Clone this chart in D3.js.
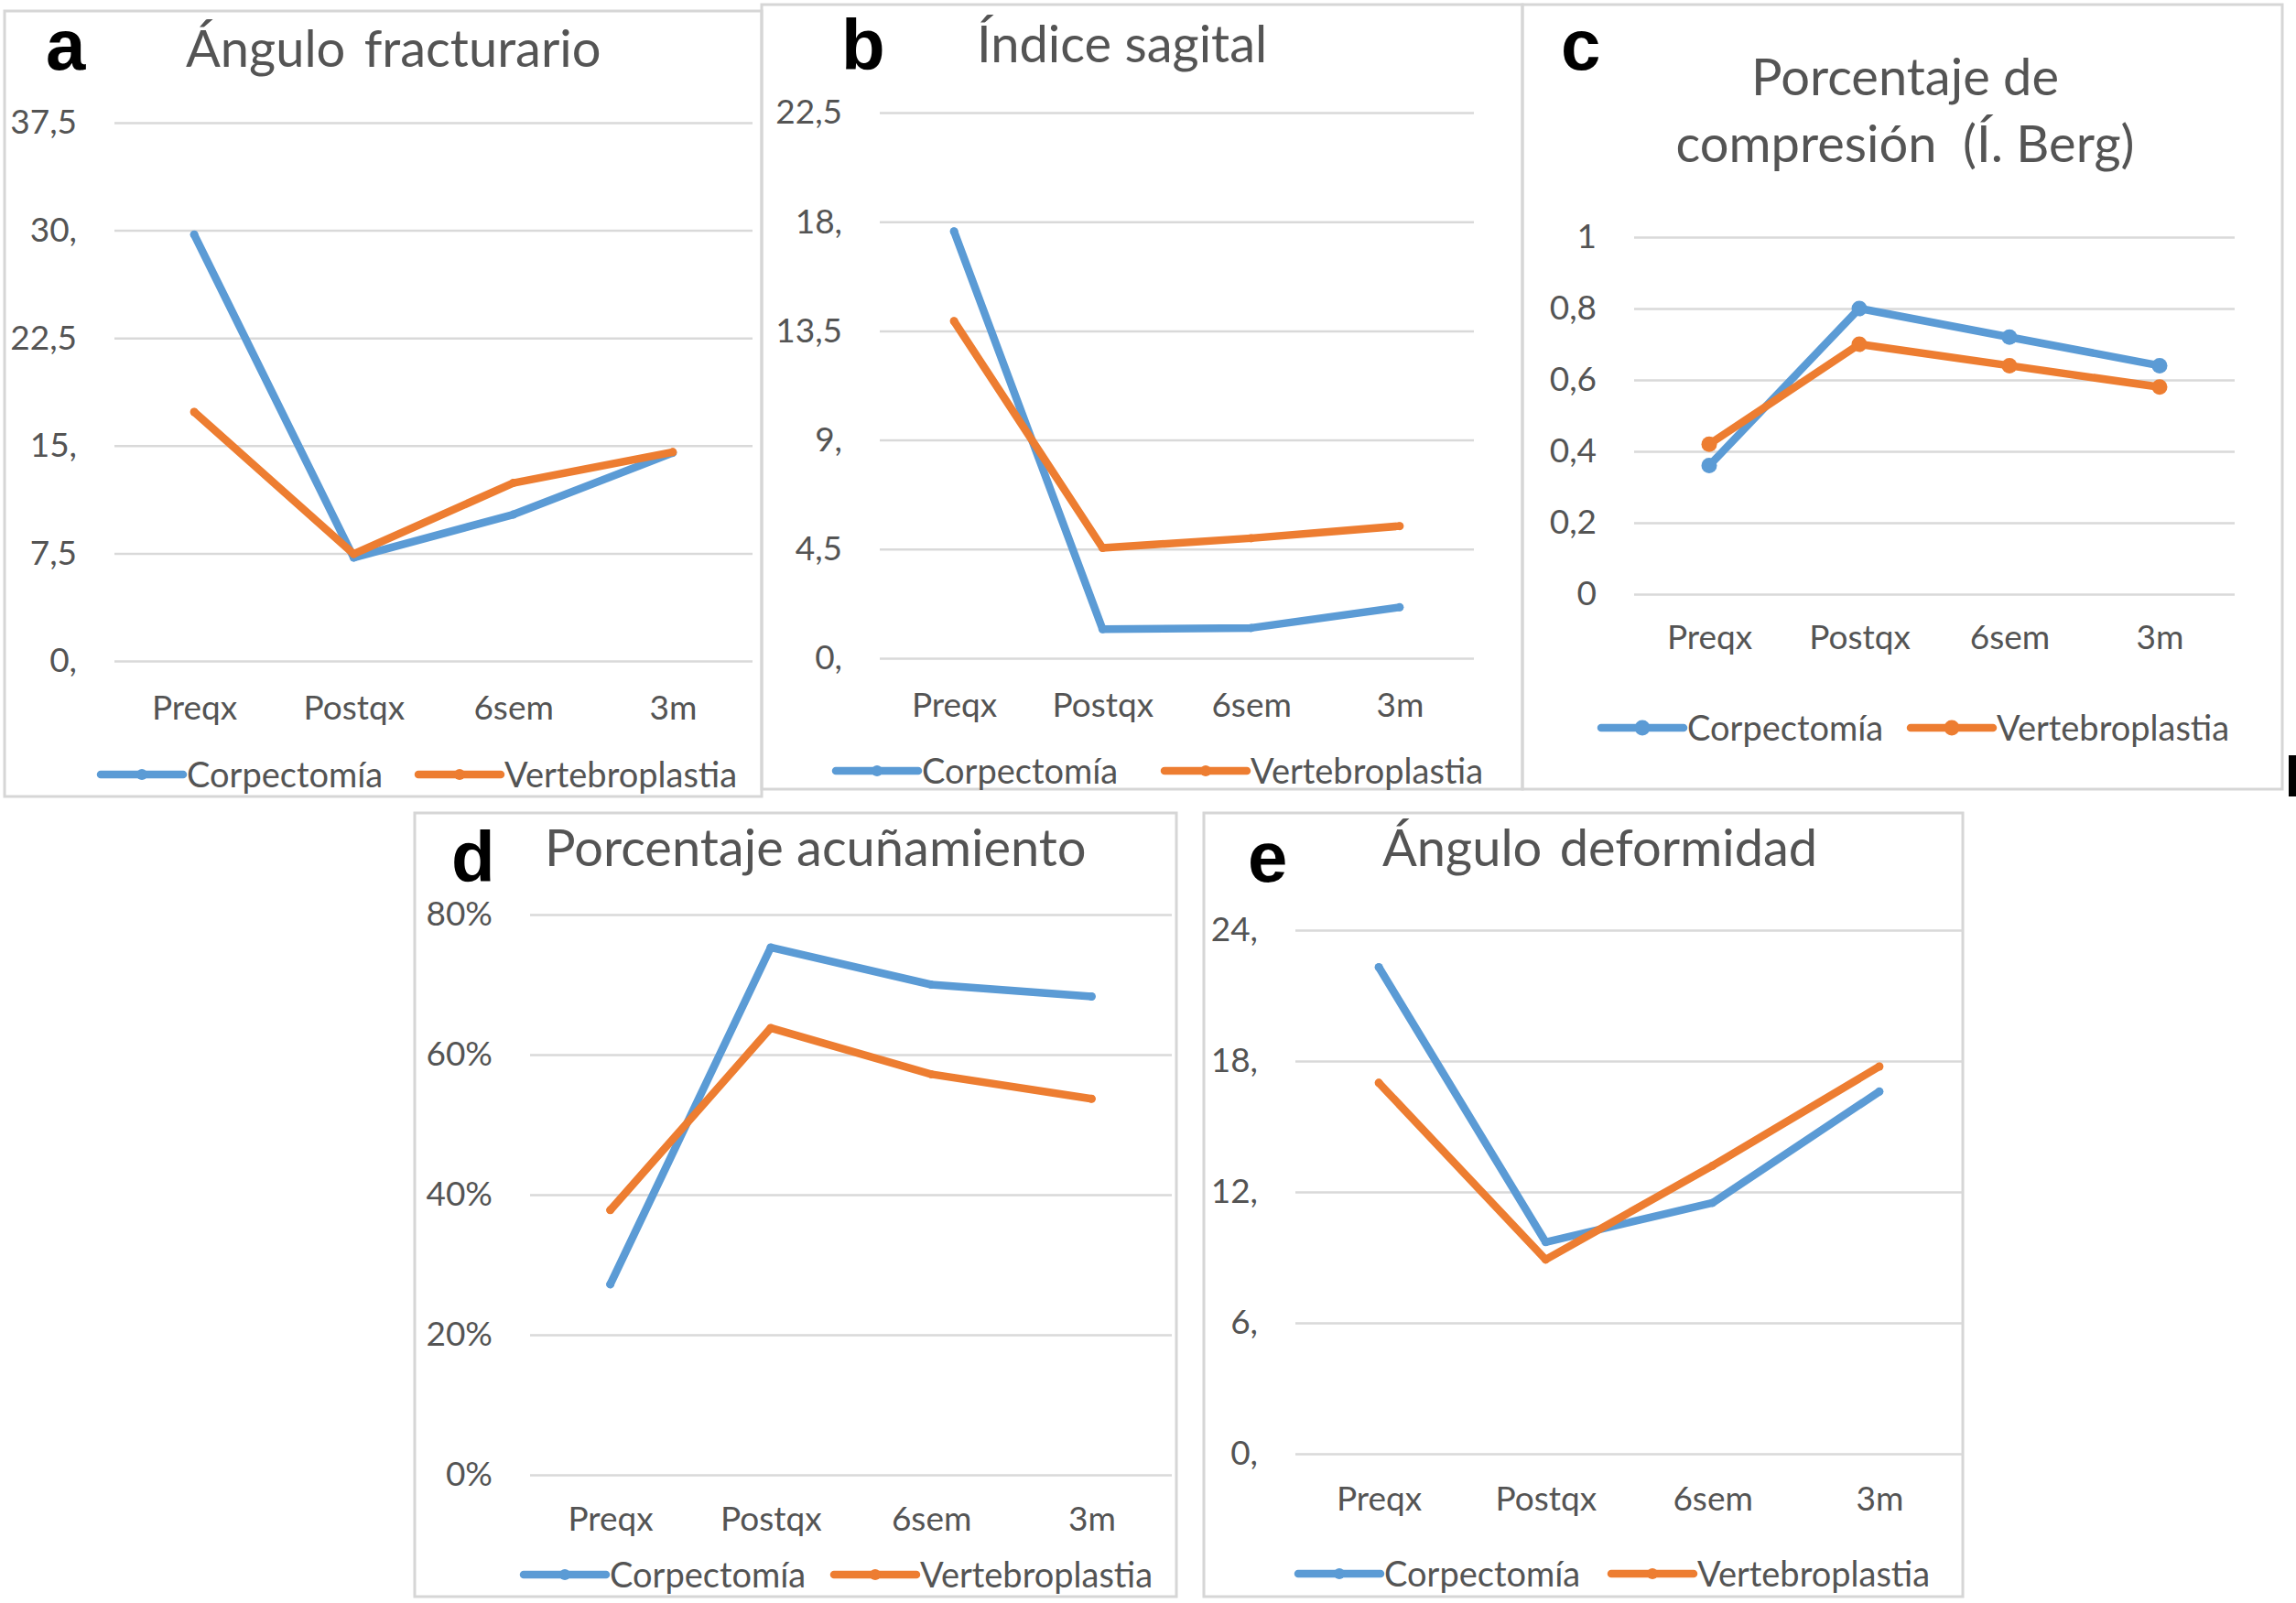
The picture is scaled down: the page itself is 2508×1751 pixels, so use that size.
<!DOCTYPE html>
<html>
<head>
<meta charset="utf-8">
<script src="https://cdn.jsdelivr.net/npm/d3@7"></script>
<style>
  body { margin: 0; background: #fff; }
  text { font-family: Lato, 'Open Sans', sans-serif; fill: #545454; white-space: pre; }
  .panel-letter { font-family: 'Liberation Sans', Arial, sans-serif; font-weight: bold; fill: #000; }
</style>
</head>
<body>
<div id="figure"></div>
<script>
'use strict'

// categories and series
const categories = ['Preqx', 'Postqx', '6sem', '3m']
const seriesNames = ['Corpectomía', 'Vertebroplastia']
const seriesColors = ['#5b9bd5', '#ed7d31']

// a - angulo fracturario
const anguloFractCorp = [29.7, 7.2, 10.2, 14.5]
const anguloFractVert = [17.35, 7.45, 12.4, 14.55]
const anguloFractTicks = [0, 7.5, 15, 22.5, 30, 37.5]
const anguloFractLabels = ['0,', '7,5', '15,', '22,5', '30,', '37,5']

// b - indice sagital
const indiceSagCorp = [17.6, 1.2, 1.25, 2.1]
const indiceSagVert = [13.9, 4.55, 4.95, 5.45]
const indiceSagTicks = [0, 4.5, 9, 13.5, 18, 22.5]
const indiceSagLabels = ['0,', '4,5', '9,', '13,5', '18,', '22,5']

// c - porcentaje de compresion (indice de Berg)
const bergCorp = [0.36, 0.80, 0.72, 0.64]
const bergVert = [0.42, 0.70, 0.64, 0.58]
const bergTicks = [0, 0.2, 0.4, 0.6, 0.8, 1]
const bergLabels = ['0', '0,2', '0,4', '0,6', '0,8', '1']

// d - porcentaje acuñamiento
const acunCorp = [0.272, 0.753, 0.70, 0.683]
const acunVert = [0.378, 0.638, 0.572, 0.537]
const acunTicks = [0, 0.2, 0.4, 0.6, 0.8]
const acunLabels = ['0%', '20%', '40%', '60%', '80%']

// e - angulo deformidad
const deformCorp = [22.3, 9.7, 11.5, 16.6]
const deformVert = [17.0, 8.9, 13.2, 17.75]
const deformTicks = [0, 6, 12, 18, 24]
const deformLabels = ['0,', '6,', '12,', '18,', '24,']

class PanelChart {
  constructor (svg, cfg) {
    this.cfg = cfg
    this.g = svg.append('g').attr('class', 'panel')
    this.x = d3.scalePoint().domain(categories).range([cfg.plot[0], cfg.plot[2]]).padding(0.5)
    this.y = d3.scaleLinear()
      .domain([cfg.ticks[0], cfg.ticks[cfg.ticks.length - 1]])
      .range([cfg.plot[3], cfg.plot[1]])
    this.makeBorder()
    this.makeGrid()
    this.makeXAxis()
    this.makeLines()
    this.makeTitle()
    this.makeLegend()
  }

  makeBorder () {
    const b = this.cfg.box
    this.g.append('rect')
      .attr('x', b[0]).attr('y', b[1])
      .attr('width', b[2] - b[0]).attr('height', b[3] - b[1])
      .attr('fill', 'none').attr('stroke', '#d6d6d6').attr('stroke-width', 3)
  }

  makeGrid () {
    const cfg = this.cfg
    const axis = this.g.append('g')
      .attr('transform', `translate(${cfg.plot[0]},0)`)
      .call(d3.axisLeft(this.y)
        .tickValues(cfg.ticks)
        .tickSize(-(cfg.plot[2] - cfg.plot[0]))
        .tickPadding(41)
        .tickFormat((d, i) => cfg.labels[i]))
    axis.select('.domain').remove()
    axis.selectAll('line').attr('stroke', '#d9d9d9').attr('stroke-width', 2.5)
    axis.selectAll('text').attr('font-size', 37).attr('fill', '#545454')
      .style('font-family', 'Lato, sans-serif')
  }

  makeXAxis () {
    const cfg = this.cfg
    const axis = this.g.append('g')
      .attr('transform', `translate(0,${cfg.plot[3]})`)
      .call(d3.axisBottom(this.x).tickSize(0))
    axis.select('.domain').remove()
    axis.selectAll('text')
      .attr('dy', null).attr('y', cfg.xLabelOffset)
      .attr('font-size', 37).attr('fill', '#545454')
      .style('font-family', 'Lato, sans-serif')
  }

  makeLines () {
    const cfg = this.cfg
    const line = d3.line()
      .x((d, i) => this.x(categories[i]))
      .y(d => this.y(d))
    cfg.series.forEach((values, s) => {
      const grp = this.g.append('g').attr('class', 'series')
      grp.append('path')
        .datum(values)
        .attr('d', line)
        .attr('fill', 'none')
        .attr('stroke', seriesColors[s])
        .attr('stroke-width', 8.5)
        .attr('stroke-linejoin', 'round')
        .attr('stroke-linecap', 'round')
      grp.selectAll('circle')
        .data(values)
        .enter()
        .append('circle')
        .attr('cx', (d, i) => this.x(categories[i]))
        .attr('cy', d => this.y(d))
        .attr('r', cfg.markerR)
        .attr('fill', seriesColors[s])
    })
  }

  makeTitle () {
    const cfg = this.cfg
    this.g.append('text')
      .attr('class', 'panel-letter')
      .attr('x', cfg.letter[0]).attr('y', cfg.letter[1])
      .attr('font-size', 78)
      .text(cfg.letterText)
    cfg.title.forEach(t => {
      this.g.append('text')
        .attr('x', t[0]).attr('y', t[1])
        .attr('text-anchor', t[3] || 'start')
        .attr('font-size', 56)
        .attr('word-spacing', t[4] || 0)
        .text(t[2])
    })
  }

  makeLegend () {
    const cfg = this.cfg
    cfg.legend.forEach((lx, s) => {
      const grp = this.g.append('g').attr('class', 'legend')
      grp.append('line')
        .attr('x1', lx).attr('x2', lx + 90)
        .attr('y1', cfg.legendY).attr('y2', cfg.legendY)
        .attr('stroke', seriesColors[s]).attr('stroke-width', 8.5)
        .attr('stroke-linecap', 'round')
      grp.append('circle')
        .attr('cx', lx + 45).attr('cy', cfg.legendY)
        .attr('r', Math.max(cfg.markerR, 6))
        .attr('fill', seriesColors[s])
      grp.append('text')
        .attr('x', lx + 94).attr('y', cfg.legendY)
        .attr('dy', '0.36em')
        .attr('font-size', 38)
        .text(seriesNames[s])
    })
  }
}

const panels = [
  {
    letterText: 'a', box: [5, 12, 832, 870], plot: [125, 134, 822, 722],
    ticks: anguloFractTicks, labels: anguloFractLabels,
    series: [anguloFractCorp, anguloFractVert], markerR: 4.5,
    letter: [50, 76], title: [[203, 73, 'Ángulo fracturario', 'start', 6]],
    xLabelOffset: 64, legend: [110, 457], legendY: 846
  },
  {
    letterText: 'b', box: [832, 5, 1663, 862], plot: [961, 123, 1610, 719],
    ticks: indiceSagTicks, labels: indiceSagLabels,
    series: [indiceSagCorp, indiceSagVert], markerR: 4.5,
    letter: [919, 76], title: [[1067, 68, 'Índice sagital']],
    xLabelOffset: 64, legend: [913, 1272], legendY: 842
  },
  {
    letterText: 'c', box: [1663, 5, 2493, 862], plot: [1785, 259, 2441, 649],
    ticks: bergTicks, labels: bergLabels,
    series: [bergCorp, bergVert], markerR: 8.5,
    letter: [1705, 76],
    title: [[2081, 104, 'Porcentaje de', 'middle'], [2081, 177, 'compresión  (Í. Berg)', 'middle']],
    xLabelOffset: 60, legend: [1749, 2087], legendY: 795
  },
  {
    letterText: 'd', box: [453, 888, 1285, 1744], plot: [579, 999, 1280, 1611],
    ticks: acunTicks, labels: acunLabels,
    series: [acunCorp, acunVert], markerR: 4.5,
    letter: [493, 963], title: [[595, 946, 'Porcentaje acuñamiento']],
    xLabelOffset: 61, legend: [572, 911], legendY: 1720
  },
  {
    letterText: 'e', box: [1315, 888, 2144, 1744], plot: [1415, 1016, 2144, 1588],
    ticks: deformTicks, labels: deformLabels,
    series: [deformCorp, deformVert], markerR: 4.5,
    letter: [1363, 963], title: [[1510, 946, 'Ángulo deformidad', 'start', 5]],
    xLabelOffset: 62, legend: [1418, 1760], legendY: 1719
  }
]

const svg = d3.select('#figure')
  .append('svg')
  .attr('width', 2508)
  .attr('height', 1751)
  .style('display', 'block')

svg.append('rect').attr('width', 2508).attr('height', 1751).attr('fill', '#fff')

for (const cfg of panels) {
  new PanelChart(svg, cfg) // eslint-disable-line no-new
}

// stray black mark at the right edge of the figure
svg.append('rect').attr('x', 2500).attr('y', 825).attr('width', 8).attr('height', 45).attr('fill', '#000')
</script>
</body>
</html>
